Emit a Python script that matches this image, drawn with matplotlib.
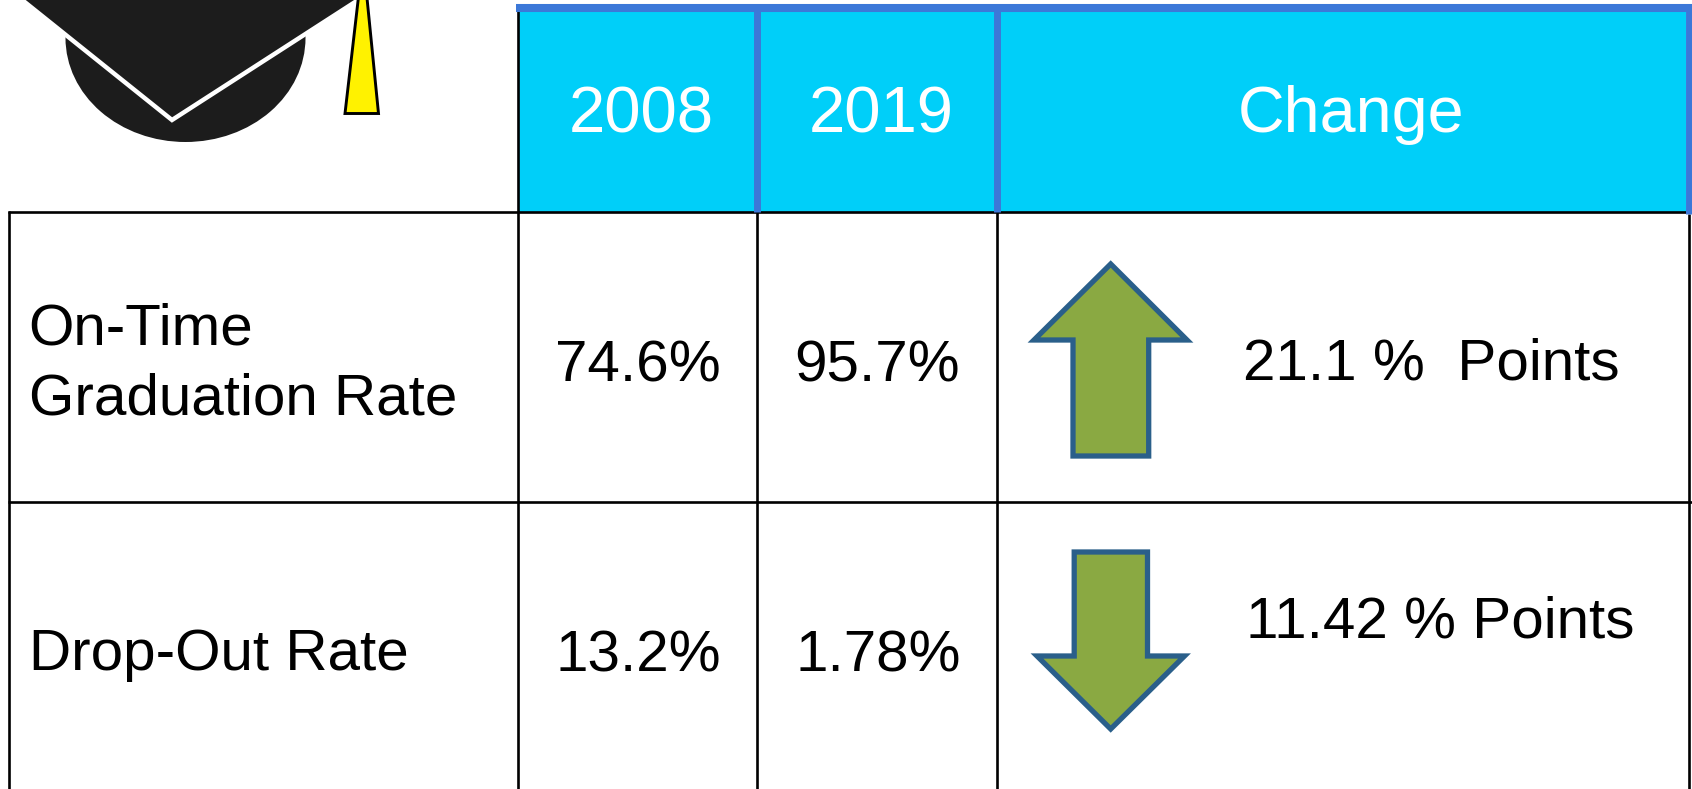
import matplotlib
matplotlib.use('Agg')
import matplotlib.pyplot as plt
from matplotlib.patches import Polygon, Ellipse, Rectangle

plt.rcParams['font.family'] = ['Liberation Sans', 'DejaVu Sans']

years = ['2008', '2019']
change_title = 'Change'
rows = ['On-Time\nGraduation Rate', 'Drop-Out Rate']
vals_2008 = ['74.6%', '13.2%']
vals_2019 = ['95.7%', '1.78%']
changes = ['21.1 %  Points', '11.42 % Points']

CYAN = '#00cff9'
BLUE = '#3c78d8'
GREEN = '#8aa942'
EDGE = '#2a5f8a'
DARK = '#1c1c1c'
LW = 1.9

fig = plt.figure(figsize=(16.92, 7.89), dpi=100)
ax = fig.add_axes([0, 0, 1, 1])
ax.set_xlim(0, 1692)
ax.set_ylim(789, 0)
ax.axis('off')

# header
ax.add_patch(Rectangle((518, 10), 1168, 202, color=CYAN, lw=0, zorder=1))
ax.plot([516, 1692], [8, 8], color=BLUE, lw=5.8, solid_capstyle='butt', zorder=3)
for x in [757, 997]:
    ax.plot([x, x], [10, 212], color=BLUE, lw=5, solid_capstyle='butt', zorder=3)
ax.plot([1688.5, 1688.5], [4, 214], color=BLUE, lw=5, solid_capstyle='butt', zorder=4)

# grid
ax.plot([8, 1686], [212, 212], color='black', lw=LW, solid_capstyle='butt', zorder=2)
ax.plot([8, 1692], [501.5, 501.5], color='black', lw=LW, solid_capstyle='butt', zorder=2)
ax.plot([9, 9], [211, 789], color='black', lw=LW, solid_capstyle='butt', zorder=2)
ax.plot([518, 518], [10, 789], color='black', lw=LW, solid_capstyle='butt', zorder=2)
for x in [757, 997]:
    ax.plot([x, x], [212, 789], color='black', lw=LW, solid_capstyle='butt', zorder=2)
ax.plot([1689, 1689], [214, 789], color='black', lw=LW, solid_capstyle='butt', zorder=2)

# graduation cap
ax.add_patch(Ellipse((185.5, 38), 240, 208, color=DARK, lw=0, zorder=2))
ax.add_patch(Polygon([(-34, -45), (172, 120), (428, -45)], closed=True, fc=DARK, ec='white',
                     lw=3.2, joinstyle='miter', zorder=3))
ax.add_patch(Polygon([(363, -42), (345, 113.5), (378.5, 113.5)], closed=True, fc='#fff200', ec='black',
                     lw=2.1, joinstyle='miter', zorder=4))

# arrows
up = [(1110.7, 264), (1034, 340), (1073, 340), (1073, 456), (1148.7, 456), (1148.7, 340), (1187, 340)]
down = [(1110.7, 729), (1037, 656), (1074.2, 656), (1074.2, 552), (1147.5, 552), (1147.5, 656), (1184.5, 656)]
for pts in [up, down]:
    ax.add_patch(Polygon(pts, closed=True, fc=GREEN, ec=EDGE, lw=3.8, joinstyle='miter', zorder=3))

# text
hdr = dict(color='white', fontsize=47, va='baseline', ha='left', zorder=5)
ax.text(569, 132, years[0], **hdr)
ax.text(809, 132, years[1], **hdr)
hdr['fontsize'] = 46.5
ax.text(1238, 132, change_title, **hdr)

body = dict(color='black', fontsize=42, va='baseline', ha='left', zorder=5)
ax.text(28, 344.5, rows[0].split('\n')[0], **body)
ax.text(29, 414, rows[0].split('\n')[1], **body)
ax.text(29, 669.5, rows[1], **body)
ax.text(555, 381, vals_2008[0], **body)
ax.text(555, 671, vals_2008[1], **body)
ax.text(794, 381, vals_2019[0], **body)
ax.text(795, 671, vals_2019[1], **body)
ax.text(1243, 379, changes[0], **body)
ax.text(1246, 637, changes[1], **body)

plt.savefig('out.png', dpi=100)
